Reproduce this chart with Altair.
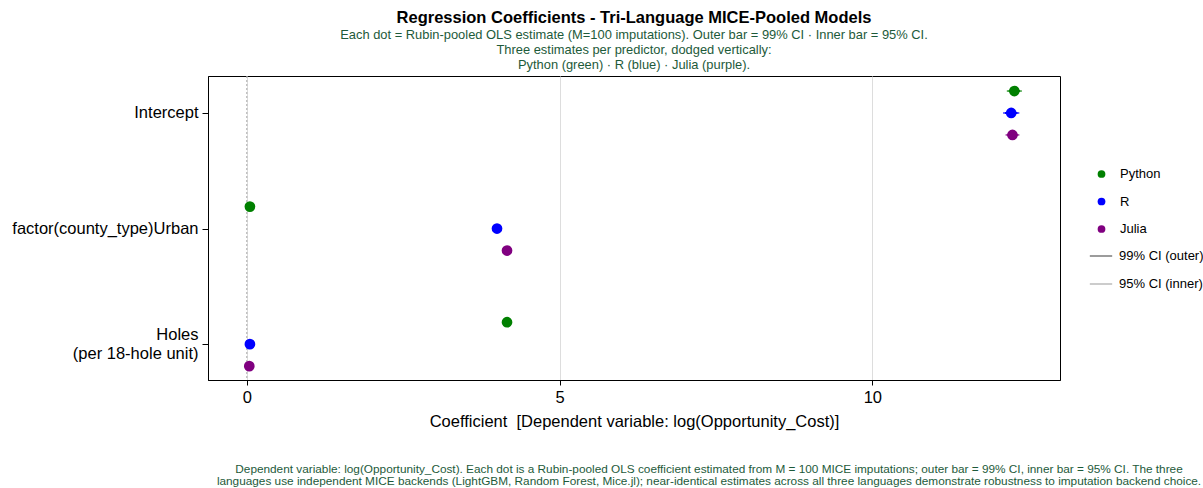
import altair as alt
import pandas as pd

# Predictors, top to bottom
terms = ["Intercept", "factor(county_type)Urban", "Holes"]
term_labels = [["Intercept"], ["factor(county_type)Urban"], ["Holes\u00a0", "(per 18-hole unit)"]]
langs = ["Python", "R", "Julia"]
lang_colors = ["#008000", "#0000ff", "#800080"]

# Rubin-pooled coefficient estimates (rows: terms, cols: Python, R, Julia)
est_python = [12.27, 0.05, 4.16]
est_r = [12.22, 4.00, 0.05]
est_julia = [12.24, 4.16, 0.04]

# Half-widths of the pooled confidence intervals
hw99_python = [0.12, 0.05, 0.05]
hw99_r = [0.13, 0.05, 0.04]
hw99_julia = [0.11, 0.05, 0.04]
hw95_python = [0.09, 0.04, 0.04]
hw95_r = [0.10, 0.04, 0.03]
hw95_julia = [0.08, 0.04, 0.03]

ci_levels = ["99% CI (outer)", "95% CI (inner)"]

TITLE = "Regression Coefficients - Tri-Language MICE-Pooled Models"
SUBTITLE = [
    "Each dot = Rubin-pooled OLS estimate (M=100 imputations). Outer bar = 99% CI \u00b7 Inner bar = 95% CI.",
    "Three estimates per predictor, dodged vertically:",
    "Python (green) \u00b7 R (blue) \u00b7 Julia (purple).",
]
X_TITLE = "Coefficient\u00a0 [Dependent variable: log(Opportunity_Cost)]"
FOOTNOTE = [
    "Dependent variable: log(Opportunity_Cost). Each dot is a Rubin-pooled OLS coefficient estimated from M = 100 MICE imputations; outer bar = 99% CI, inner bar = 95% CI. The three",
    "languages use independent MICE backends (LightGBM, Random Forest, Mice.jl); near-identical estimates across all three languages demonstrate robustness to imputation backend choice.",
]

FONT = "Liberation Sans"
GREEN_TXT = "#1d5a3a"
DODGE = 0.19
AX_FS = 16.5

# Long table: one row per (term, language)
series = {
    "Python": (est_python, hw99_python, hw95_python),
    "R": (est_r, hw99_r, hw95_r),
    "Julia": (est_julia, hw99_julia, hw95_julia),
}
rows = []
for li, lang in enumerate(langs):
    est, h99, h95 = series[lang]
    for ti, term in enumerate(terms):
        rows.append({
            "term": term,
            "lang": lang,
            "pos": ti + (li - 1) * DODGE,
            "est": est[ti],
            "lo99": est[ti] - h99[ti],
            "hi99": est[ti] + h99[ti],
            "lo95": est[ti] - h95[ti],
            "hi95": est[ti] + h95[ti],
        })
df = pd.DataFrame(rows)

# y-axis labels (multi-line for the last predictor)
def _lbl(parts):
    if len(parts) == 1:
        return "'" + parts[0] + "'"
    return "[" + ", ".join("'" + p + "'" for p in parts) + "]"

label_expr = (
    f"datum.value == 0 ? {_lbl(term_labels[0])} : "
    f"datum.value == 1 ? {_lbl(term_labels[1])} : {_lbl(term_labels[2])}"
)

x_scale = alt.Scale(domain=[-0.62, 13.0], nice=False, zero=False)
y_scale = alt.Scale(domain=[-0.32, 2.31], reverse=True, nice=False, zero=False)
y_axis = alt.Axis(
    values=[0, 1, 2], labelExpr=label_expr, title=None, grid=False,
    labelFontSize=AX_FS, labelLineHeight=19, tickSize=6, labelPadding=4, labelLimit=400,
    labelOffset=alt.condition("datum.value == 2", alt.value(-9.5), alt.value(0)),
)
x_axis = alt.Axis(values=[0, 5, 10], format="d", grid=True, gridColor="#dddddd",
                  labelFontSize=AX_FS, tickSize=5, labelPadding=4, titleFontSize=AX_FS,
                  titleFontWeight="normal", titlePadding=8)

color_scale = alt.Scale(domain=langs, range=lang_colors)

base = alt.Chart(df)

zero_line = alt.Chart(pd.DataFrame({"x": [0]})).mark_rule(
    color="#aaaaaa", strokeDash=[2, 2], strokeWidth=1
).encode(x=alt.X("x:Q", scale=x_scale, axis=x_axis, title=X_TITLE))

ci99 = base.mark_rule(strokeWidth=1.2).encode(
    x=alt.X("lo99:Q", title=X_TITLE),
    x2="hi99:Q",
    y=alt.Y("pos:Q", scale=y_scale, axis=y_axis),
    color=alt.Color("lang:N", scale=color_scale, legend=None),
)
ci95 = base.mark_rule(strokeWidth=2).encode(
    x=alt.X("lo95:Q", title=X_TITLE),
    x2="hi95:Q",
    y=alt.Y("pos:Q"),
    color=alt.Color("lang:N", scale=color_scale, legend=None),
)

dots = base.mark_circle(size=115, opacity=1).encode(
    x=alt.X("est:Q", title=X_TITLE),
    y=alt.Y("pos:Q"),
    color=alt.Color(
        "lang:N", scale=color_scale,
        legend=alt.Legend(title=None, orient="none", legendX=887, legendY=91.5,
                          symbolType="circle", symbolSize=60, labelFontSize=13,
                          rowPadding=13.5, labelOffset=12, padding=0),
    ),
)

# Legend entries for the two interval styles
ci_key = alt.Chart(pd.DataFrame({"level": ci_levels, "x": [0, 0]})).mark_rule(opacity=0).encode(
    x=alt.X("x:Q", title=X_TITLE),
    stroke=alt.Stroke(
        "level:N",
        scale=alt.Scale(domain=ci_levels, range=["#666666", "#b0b0b0"]),
        legend=alt.Legend(title=None, orient="none", legendX=881, legendY=168,
                          symbolType="stroke", symbolSize=500, symbolOpacity=1,
                          symbolStrokeWidth=1.3, labelFontSize=13, rowPadding=9,
                          labelOffset=6, padding=0),
    ),
)

footnote = alt.Chart(pd.DataFrame({"k": [0]})).mark_text(
    text=FOOTNOTE, font=FONT, fontSize=11.8, color=GREEN_TXT, align="center",
    baseline="top", lineHeight=12,
).encode(x=alt.value(501), y=alt.value(387.5))

chart = alt.layer(zero_line, ci99, ci95, dots, ci_key, footnote).properties(
    width=852,
    height=304,
    title=alt.TitleParams(
        text=TITLE, subtitle=SUBTITLE, anchor="middle", frame="group",
        fontSize=16.5, fontWeight="bold", color="#000000",
        subtitleFontSize=12.9, subtitleColor=GREEN_TXT, subtitleLineHeight=15,
        subtitlePadding=2, offset=4, font=FONT, subtitleFont=FONT,
    ),
    autosize=alt.AutoSizeParams(type="none"),
    padding={"left": 208, "top": 76, "right": 143, "bottom": 108},
).resolve_scale(
    color="independent", stroke="independent"
).configure(
    font=FONT,
).configure_view(
    stroke="#000000", strokeWidth=1,
).configure_axis(
    labelFont=FONT, titleFont=FONT, domainColor="#000000", tickColor="#000000",
    labelColor="#000000", titleColor="#000000", domainWidth=1,
).configure_legend(
    labelFont=FONT, labelColor="#000000",
)

chart.save("out.html", embed_options={"renderer": "svg", "actions": False})
